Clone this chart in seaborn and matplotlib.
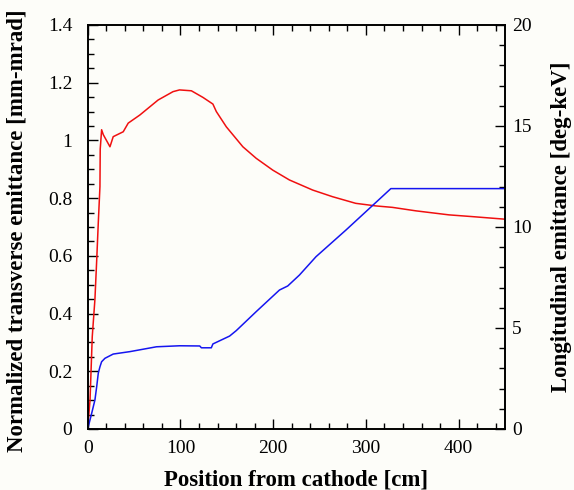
import numpy as np
import pandas as pd
import seaborn as sns
import matplotlib.pyplot as plt
from matplotlib.ticker import MultipleLocator

# transverse emittance (left axis, mm-mrad)
x_trans = [0, 2.5, 4.9, 7.8, 9.7, 11.4, 13.2, 13.5, 15, 16.8, 24, 27.5, 38.3, 43.7,
           56.2, 75.9, 92, 99, 111.8, 124.3, 135, 138.7, 149.5, 167.3, 181.7,
           199.6, 217.5, 242.6, 264, 289, 310.8, 328.6, 353.8, 389.6, 414.6, 450]
y_trans = [0, 0.10, 0.32, 0.45, 0.585, 0.714, 0.84, 0.97, 1.037, 1.02, 0.978, 1.013,
           1.03, 1.06, 1.088, 1.14, 1.169, 1.175, 1.172, 1.149, 1.126, 1.10, 1.047,
           0.978, 0.938, 0.897, 0.863, 0.828, 0.805, 0.782, 0.773, 0.768, 0.756,
           0.742, 0.736, 0.727]

# longitudinal emittance (right axis, deg-keV)
x_long = [0, 4.3, 7.8, 9.7, 11.4, 13.2, 15, 18.6, 27.5, 45.5, 74.2, 99.2, 120.8,
          122.6, 133.3, 135, 153, 160.2, 181.7, 206.8, 215.7, 228.3, 246.2, 278.5,
          300, 326.9, 450]
y_long = [0, 0.78, 1.44, 2.10, 2.76, 3.08, 3.33, 3.50, 3.71, 3.83, 4.07, 4.12, 4.11,
          4.02, 4.02, 4.21, 4.60, 4.87, 5.81, 6.88, 7.08, 7.62, 8.53, 9.85, 10.76,
          11.9, 11.9]

df_t = pd.DataFrame({"pos": x_trans, "emit": y_trans})
df_l = pd.DataFrame({"pos": x_long, "emit": y_long})

sns.set_style("ticks")
plt.rcParams['font.family'] = ['Liberation Serif', 'DejaVu Serif']
plt.rcParams['text.color'] = 'black'
plt.rcParams['axes.labelcolor'] = 'black'
plt.rcParams['xtick.color'] = 'black'
plt.rcParams['ytick.color'] = 'black'
bg = '#fdfdf9'

fig = plt.figure(figsize=(5.74, 4.9), dpi=100, facecolor=bg)
ax = fig.add_axes([0.1528, 0.1245, 0.7270, 0.8245])
ax.set_facecolor(bg)
ax2 = ax.twinx()

sns.lineplot(data=df_t, x="pos", y="emit", ax=ax, color='#f01010', lw=1.1,
             sort=False, estimator=None)
sns.lineplot(data=df_l, x="pos", y="emit", ax=ax2, color='#1515f0', lw=1.1,
             sort=False, estimator=None)

ax.set_xlim(0, 450)
ax.set_ylim(0, 1.4)
ax2.set_ylim(0, 20)

ax.xaxis.set_major_locator(MultipleLocator(100))
ax.xaxis.set_minor_locator(MultipleLocator(20))
ax.yaxis.set_major_locator(MultipleLocator(0.2))
ax.yaxis.set_minor_locator(MultipleLocator(0.05))
ax2.yaxis.set_major_locator(MultipleLocator(5))
ax2.yaxis.set_minor_locator(MultipleLocator(1))

ax.set_yticks(np.arange(0, 1.41, 0.2))
ax.set_yticklabels(['0', '0.2', '0.4', '0.6', '0.8', '1', '1.2', '1.4'])

ax.tick_params(axis='x', which='both', direction='in', top=True, bottom=True,
               labelsize=14, pad=8, width=1, colors='black')
ax.tick_params(axis='y', which='both', direction='in', left=True, right=False,
               labelsize=14, pad=11, width=1, colors='black')
ax2.tick_params(axis='y', which='both', direction='in', labelsize=14, pad=5, width=1,
                colors='black')
for a in (ax, ax2):
    a.tick_params(which='major', length=7)
    a.tick_params(which='minor', length=4)
    for s in a.spines.values():
        s.set_linewidth(1.2)
        s.set_color('black')

ax.set_xlabel("Position from cathode [cm]", fontsize=16.5, fontweight='bold', labelpad=9)
ax.set_ylabel("Normalized transverse emittance [mm-mrad]", fontsize=16.5,
              fontweight='bold')
ax.yaxis.set_label_coords(-0.145, 0.49)
ax2.set_ylabel("Longitudinal emittance [deg-keV]", fontsize=16.5, fontweight='bold',
               labelpad=14)

fig.savefig("out.png", dpi=100, facecolor=bg)
